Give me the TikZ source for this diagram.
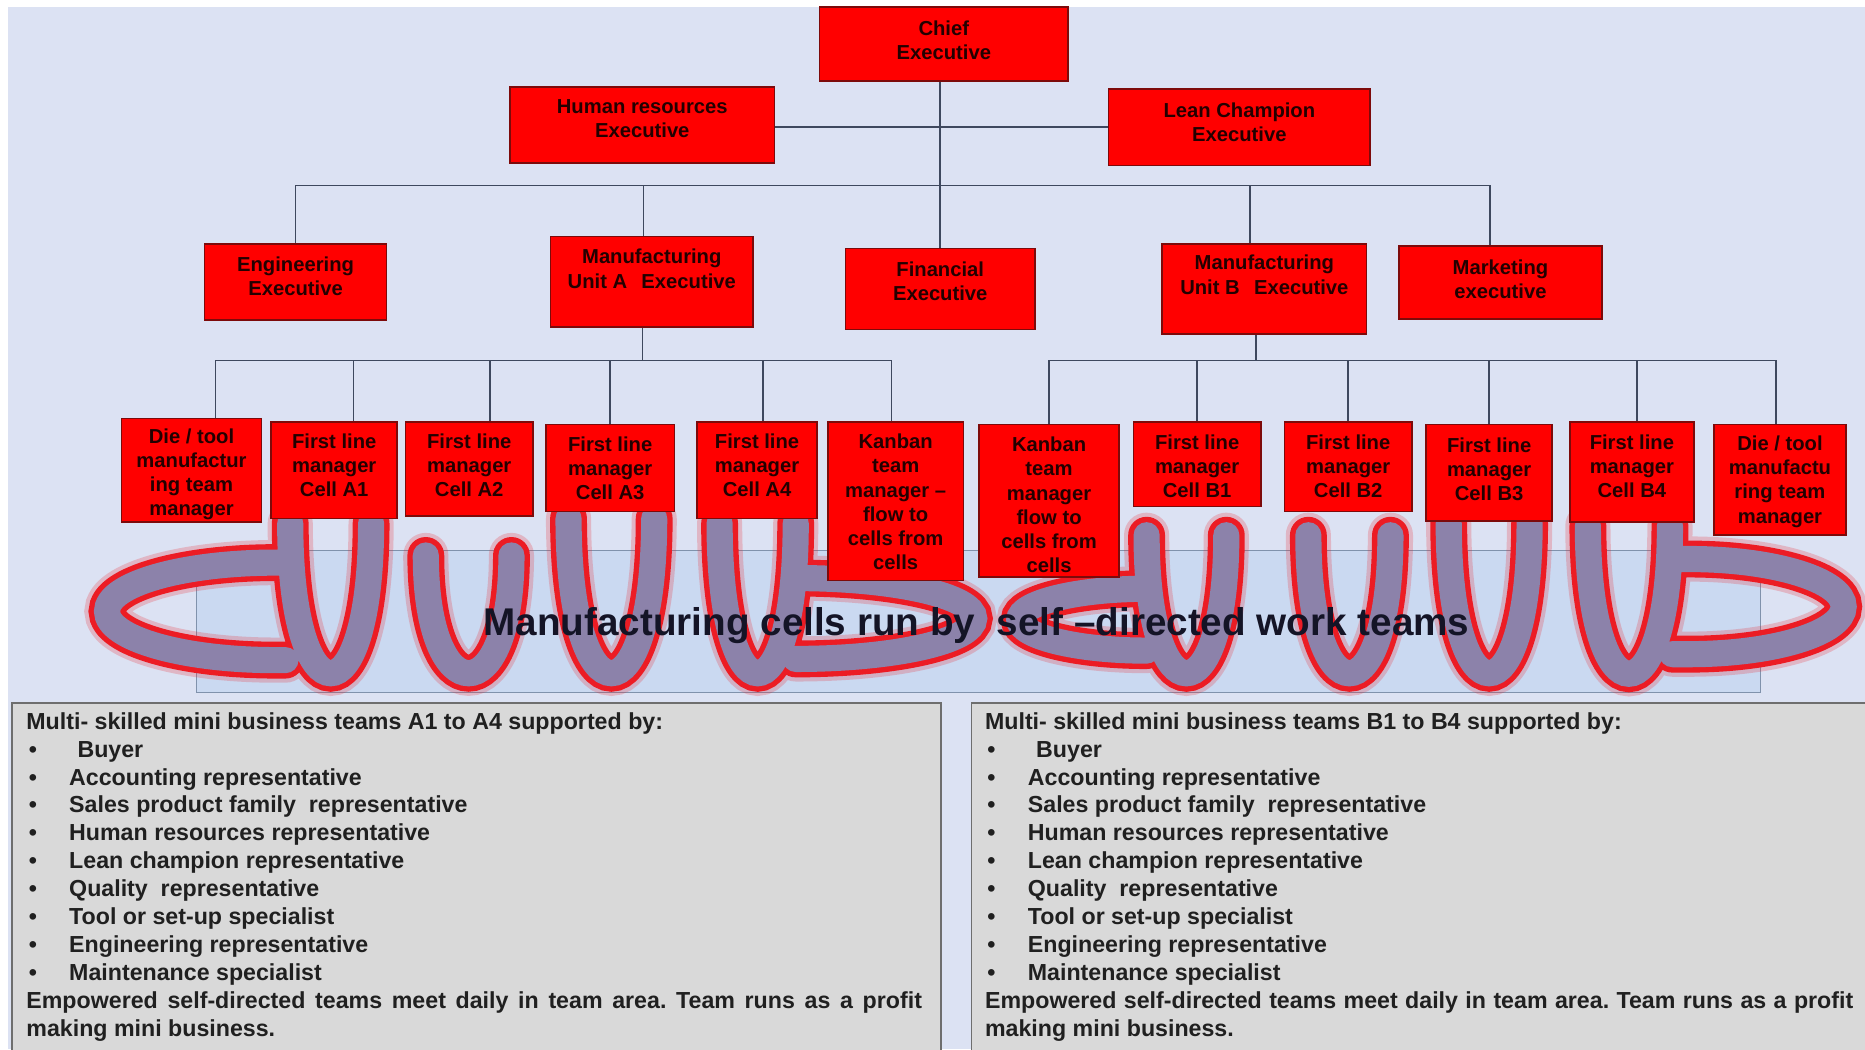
\documentclass[tikz,border=0pt]{standalone}
\usepackage{fontspec}
\setmainfont{Liberation Sans}
\usetikzlibrary{calc}
\definecolor{bglav}{RGB}{220,226,243}
\definecolor{linkcol}{RGB}{62,72,94}
\definecolor{boxred}{RGB}{255,0,0}
\definecolor{boxedge}{RGB}{125,10,10}
\definecolor{boxink}{RGB}{35,0,0}
\definecolor{bandred}{RGB}{236,28,36}
\definecolor{bandcore}{RGB}{140,130,170}
\definecolor{stripfill}{RGB}{190,212,240}
\definecolor{stripedge}{RGB}{128,146,172}
\definecolor{panelfill}{RGB}{217,217,217}
\definecolor{paneledge}{RGB}{110,110,110}
\definecolor{panelink}{RGB}{32,32,32}
\definecolor{titleink}{RGB}{20,20,38}

% bullet with its hanging indent
\newcommand\bul{\makebox[36pt][l]{\hspace{2pt}•}}

% one support-team panel: prefix, left x, team range, paragraph width
\newcommand\teampanel[4]{%
  \node[ptext] (#1-0) at (#2,613) {Multi- skilled mini business teams #3 supported by:};
  \node[ptext] (#1-1) at (#2,636.5) {\bul\hspace{7pt}Buyer};
  \foreach \t [count=\k from 2] in {Accounting representative,
      Sales product family\ \ representative, Human resources representative,
      Lean champion representative, Quality\ \ representative,
      Tool or set-up specialist, Engineering representative, Maintenance specialist}
    {\node[ptext] (#1-\k) at (#2,{613+23.5*\k}) {\bul\t};}
  \node[ptext] (#1-10) at (#2,848) {\frenchspacing\makebox[#4pt][s]{Empowered self-directed teams meet daily in team area. Team runs as a profit}};
  \node[ptext] (#1-11) at (#2,871.5) {making mini business.};
}

% the serpentine band of cells
\def\bandpath{
  (240,473) -- (232,473) .. controls (154,473) and (90,491) .. (90,514)
            .. controls (90,537) and (154,555) .. (232,555) -- (240,555)
  (244,440) .. controls (244,608) and (312,608) .. (312,440)
  (358,467) .. controls (358,599) and (430,599) .. (430,467)
  (478,436) .. controls (478,609.3) and (550,609.3) .. (550,436)
  (605,440) .. controls (605,608) and (669,608) .. (669,440)
  (669,486) .. controls (752,486) and (819,501) .. (819,520)
            .. controls (819,539) and (752,554) .. (669,554)
  (964,495) .. controls (905,495) and (857,507) .. (857,521)
            .. controls (857,535) and (905,547) .. (964,547)
  (964,450) .. controls (964,604.7) and (1031,604.7) .. (1031,450)
  (1100,450) .. controls (1100,604.7) and (1169,604.7) .. (1169,450)
  (1218,440) .. controls (1218,608) and (1286,608) .. (1286,440)
  (1335,442) .. controls (1335,607.9) and (1404,607.9) .. (1404,442)
  (1406,470) -- (1420,470) .. controls (1492,470) and (1550,488) .. (1550,510)
             .. controls (1550,532) and (1492,550) .. (1420,550) -- (1406,550)
}

\begin{document}
\begin{tikzpicture}[x=1pt,y=-1pt,
  conn/.style={draw=linkcol, line width=1.4pt},
  redbox/.style={draw=boxedge, line width=1.3pt, fill=boxred, inner sep=0pt},
  boxtext/.style={font=\fontsize{17}{20.3}\selectfont\bfseries, text=boxink,
                  align=center, inner sep=0pt},
  ptext/.style={anchor=base west, inner sep=0pt,
                font=\fontsize{19.5}{23.5}\selectfont\bfseries, text=panelink},
  panel/.style={draw=paneledge, line width=1.6pt, fill=panelfill, inner sep=0pt},
  bandglow/.style={draw=bandred, draw opacity=0.22, line width=38pt, line cap=round},
  bandedge/.style={draw=bandred, line width=31pt, line cap=round},
  bandcorestyle/.style={draw=bandcore, line width=22pt, line cap=round}]

% page and background
\fill[white] (0,0) rectangle (1568,882);
\fill[bglav] (7,6) rectangle (1568,882);
\useasboundingbox (0,0) rectangle (1568,882);

% ---------- strip behind the cells ----------
\node[draw=stripedge, line width=0.8pt, fill=stripfill, fill opacity=0.6,
      minimum width=1315pt, minimum height=119pt, inner sep=0pt] (strip) at (822.5,522.5) {};

% ---------- serpentine band (under the cell boxes) ----------
\draw[bandglow] \bandpath;
\draw[bandedge] \bandpath;
\draw[bandcorestyle] \bandpath;

% ---------- executive boxes ----------
\node[redbox, minimum width=209pt, minimum height=62pt] (chief) at (793.5,37) {};
\node[redbox, minimum width=222pt, minimum height=64pt] (hr) at (540,105) {};
\node[redbox, minimum width=220pt, minimum height=64pt] (lean) at (1042,107) {};
\node[redbox, minimum width=153pt, minimum height=64pt] (eng) at (248.5,237) {};
\node[redbox, minimum width=170pt, minimum height=76pt] (unita) at (548,237) {};
\node[redbox, minimum width=159pt, minimum height=68pt] (fin) at (790.5,243) {};
\node[redbox, minimum width=172pt, minimum height=76pt] (unitb) at (1063,243) {};
\node[redbox, minimum width=171pt, minimum height=61pt] (mkt) at (1261.5,237.5) {};

% ---------- cell manager boxes ----------
\node[redbox, minimum width=118pt, minimum height=87pt] (die1) at (161,395.5) {};
\node[redbox, minimum width=106pt, minimum height=81pt] (a1) at (281,395.5) {};
\node[redbox, minimum width=107pt, minimum height=79pt] (a2) at (394.5,394.5) {};
\node[redbox, minimum width=108pt, minimum height=73pt] (a3) at (513,393.5) {};
\node[redbox, minimum width=101pt, minimum height=81pt] (a4) at (636.5,395.5) {};
\node[redbox, minimum width=114pt, minimum height=133pt] (kan1) at (753,421.5) {};
\node[redbox, minimum width=118pt, minimum height=128pt] (kan2) at (882,421) {};
\node[redbox, minimum width=107pt, minimum height=71pt] (b1) at (1006.5,390.5) {};
\node[redbox, minimum width=107pt, minimum height=75pt] (b2) at (1133.5,392.5) {};
\node[redbox, minimum width=106pt, minimum height=81pt] (b3) at (1252,397.5) {};
\node[redbox, minimum width=104pt, minimum height=84pt] (b4) at (1372,397) {};
\node[redbox, minimum width=111pt, minimum height=93pt] (die2) at (1496.5,403.5) {};

% ---------- connectors (upper levels) ----------
\coordinate (hl) at (790,107);
\coordinate (bus2) at (0,156);
\coordinate (bus4) at (0,303);
\draw[conn] (chief.south -| fin.north) -- (fin.north);
\draw[conn] (hr.east |- hl) -- (lean.west |- hl);
\coordinate (ua-top) at ($(unita.north west)!0.459!(unita.north east)$);
\coordinate (ub-top) at ($(unitb.north west)!0.43!(unitb.north east)$);
\coordinate (mk-top) at ($(mkt.north west)!0.45!(mkt.north east)$);
\draw[conn] (eng.north) -- (eng.north |- bus2) -- (mk-top |- bus2) -- (mk-top);
\draw[conn] (ua-top |- bus2) -- (ua-top);
\draw[conn] (ub-top |- bus2) -- (ub-top);

% ---------- connectors (cell level) ----------
\coordinate (ua-bot) at ($(unita.south west)!0.455!(unita.south east)$);
\coordinate (ub-bot) at ($(unitb.south west)!0.46!(unitb.south east)$);
\draw[conn] (ua-bot) -- (ua-bot |- bus4);
\draw[conn] (ub-bot) -- (ub-bot |- bus4);
\foreach \bx/\fr in {die1/0.67, a1/0.65, a2/0.66, a3/0.5, a4/0.55, kan1/0.47,
                     kan2/0.5, b1/0.5, b2/0.5, b3/0.5, b4/0.54, die2/0.47}
  {\coordinate (\bx-top) at ($(\bx.north west)!\fr!(\bx.north east)$);
   \draw[conn] (\bx-top) -- (\bx-top |- bus4);}
\draw[conn] (die1-top |- bus4) -- (kan1-top |- bus4);
\draw[conn] (kan2-top |- bus4) -- (die2-top |- bus4);

% ---------- box texts ----------
\node[boxtext] (chief-t) at (793.5,34) {Chief\\Executive};
\node[boxtext] (hr-t) at (540,100) {Human resources\\Executive};
\node[boxtext] (lean-t) at (1042,102.5) {Lean Champion\\Executive};
\node[boxtext] (eng-t) at (248.5,232) {Engineering\\Executive};
\node[boxtext] (unita-t) at (548,226) {Manufacturing\\Unit A\hspace{12pt}Executive};
\node[boxtext] (fin-t) at (790.5,236.5) {Financial\\Executive};
\node[boxtext] (unitb-t) at (1063,231) {Manufacturing\\Unit B\hspace{12pt}Executive};
\node[boxtext] (mkt-t) at (1261.5,235) {Marketing\\executive};
\node[boxtext] (die1-t) at (161,399) {Die / tool\\manufactur\\ing team\\manager};
\node[boxtext] (a1-t) at (281,391) {First line\\manager\\Cell A1};
\node[boxtext] (a2-t) at (394.5,391) {First line\\manager\\Cell A2};
\node[boxtext] (a3-t) at (513,393.5) {First line\\manager\\Cell A3};
\node[boxtext] (a4-t) at (636.5,391) {First line\\manager\\Cell A4};
\node[boxtext] (kan1-t) at (753,422) {Kanban\\team\\manager –\\flow to\\cells from\\cells};
\node[boxtext] (kan2-t) at (882,424.5) {Kanban\\team\\manager\\flow to\\cells from\\cells};
\node[boxtext] (b1-t) at (1006.5,392) {First line\\manager\\Cell B1};
\node[boxtext] (b2-t) at (1133.5,392) {First line\\manager\\Cell B2};
\node[boxtext] (b3-t) at (1252,394.5) {First line\\manager\\Cell B3};
\node[boxtext] (b4-t) at (1372,392) {First line\\manager\\Cell B4};
\node[boxtext] (die2-t) at (1496.5,405) {Die / tool\\manufactu\\ring team\\manager};

% ---------- strip caption ----------
\node[anchor=base, inner sep=0pt, font=\fontsize{32.5}{38}\selectfont\bfseries,
      text=titleink] (cells-caption) at (821,534)
      {Manufacturing cells run by\ \ self –directed work teams};

% ---------- support-team panels ----------
\node[panel, anchor=north west, minimum width=781pt, minimum height=310pt] (leftpanel) at (9,590) {};
\node[panel, anchor=north west, minimum width=770pt, minimum height=310pt] (rightpanel) at (816,590) {};
\teampanel{pa}{22}{A1 to A4}{753}
\teampanel{pb}{828}{B1 to B4}{730}

\end{tikzpicture}
\end{document}
